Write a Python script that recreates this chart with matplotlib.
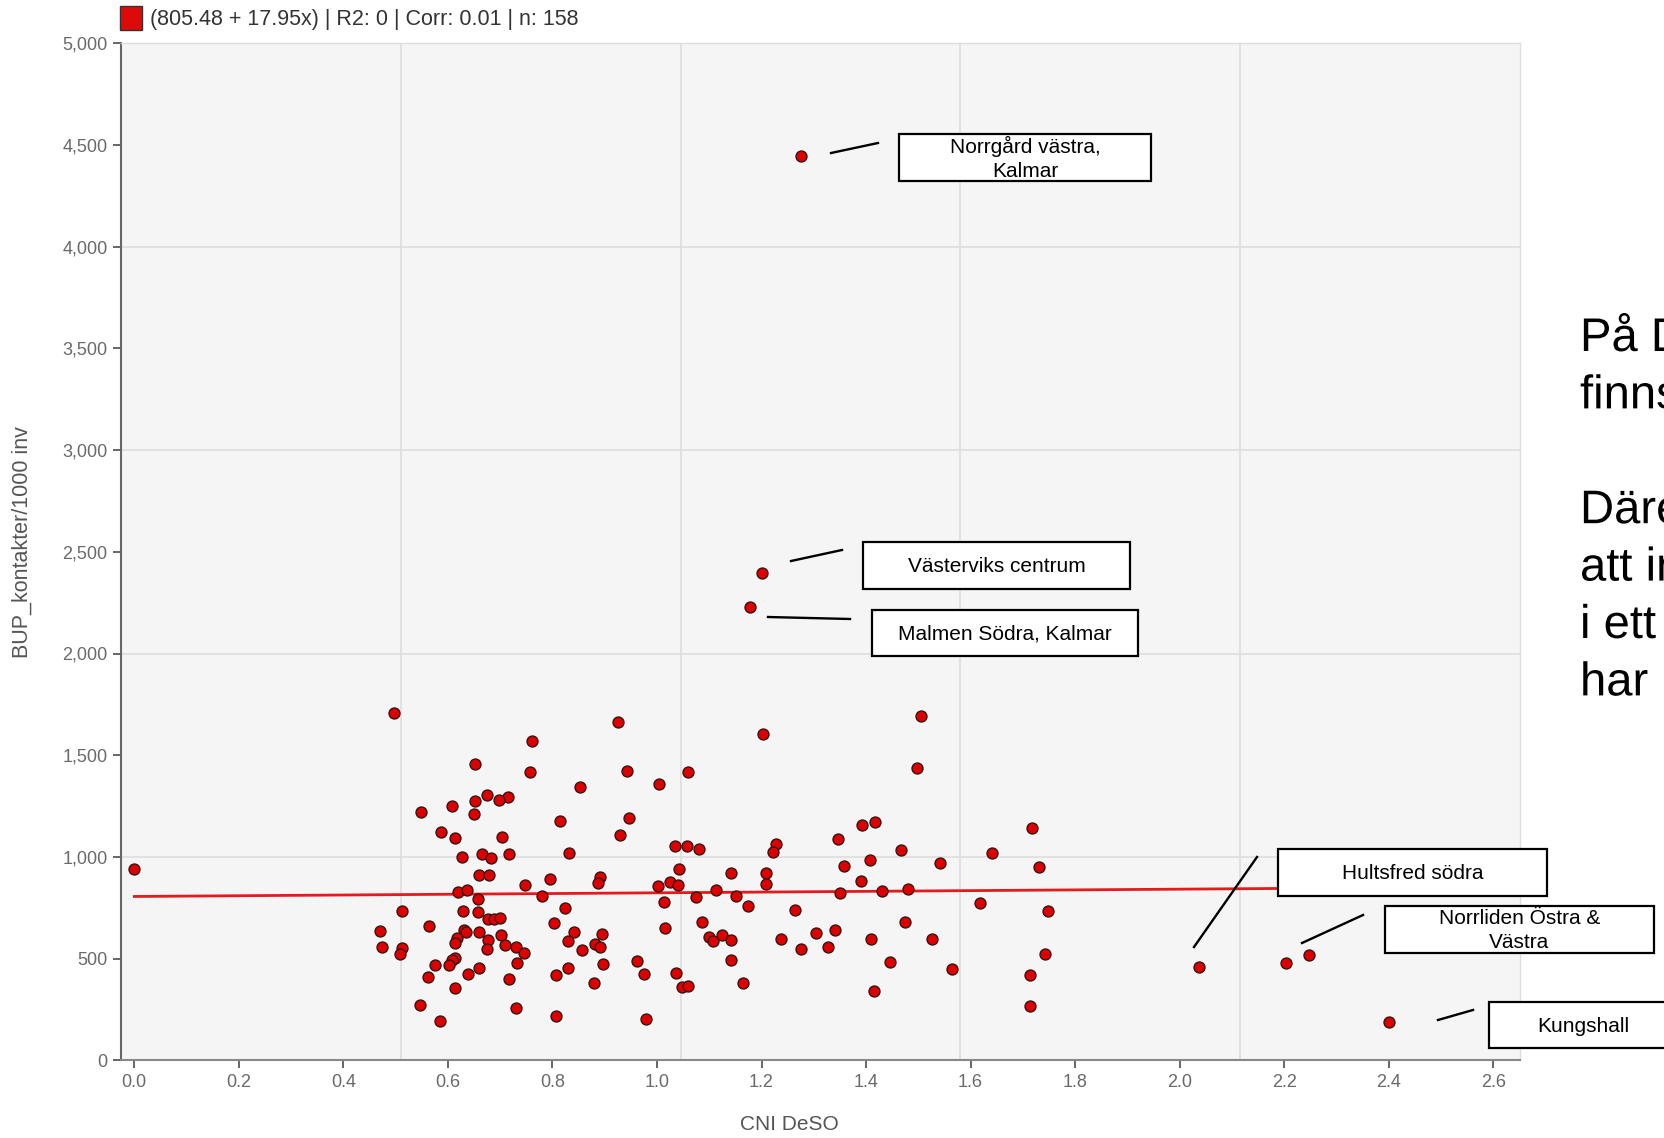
import numpy as np
import matplotlib
matplotlib.use("Agg")
import matplotlib.pyplot as plt
from matplotlib.patches import Rectangle, PathPatch
from matplotlib.lines import Line2D
from matplotlib.textpath import TextPath
from matplotlib.font_manager import FontProperties
from matplotlib.transforms import Affine2D

plt.rcParams['font.family'] = ['Liberation Sans', 'DejaVu Sans']

# values (158 DeSO areas)
cni = [
    0.000, 0.497, 0.760, 0.652, 0.757, 0.674, 0.714, 0.698, 0.608, 0.652,
    0.549, 0.649, 0.587, 0.614, 0.704, 0.626, 0.666, 0.682, 0.716, 0.660,
    0.678, 0.747, 0.796, 0.619, 0.637, 0.657, 0.780, 0.513, 0.628, 0.657,
    0.677, 0.689, 0.700, 0.471, 0.564, 0.631, 0.635, 0.660, 0.618, 0.614,
    0.677, 0.702, 0.710, 0.674, 0.730, 0.745, 0.474, 0.513, 0.508, 0.614,
    0.607, 0.603, 0.575, 0.733, 0.660, 0.561, 0.639, 0.614, 0.716, 0.546,
    0.730, 0.584,
    0.926, 0.943, 0.853, 1.004, 1.060, 1.203, 1.506, 1.497, 0.815, 0.946,
    0.929, 0.832, 1.034, 1.058, 1.081, 1.227, 1.221, 1.346, 1.392, 1.417,
    1.466, 1.407, 1.541, 1.358, 0.891, 0.888, 1.043, 1.001, 1.025, 1.041,
    1.142, 1.209, 1.208, 1.113, 1.151, 1.075, 1.390, 1.351, 1.431, 1.481,
    0.824, 1.013, 1.174, 1.264, 0.803, 1.086, 1.474, 1.016, 0.841, 0.829,
    0.894, 0.882, 0.891, 0.856, 1.100, 1.107, 1.125, 1.142, 1.238, 1.305,
    1.340, 1.328, 1.276, 1.410, 1.527, 1.445, 0.806, 0.829, 0.897, 0.880,
    0.961, 0.975, 1.036, 1.047, 1.060, 1.142, 1.165, 1.416, 0.806, 0.978,
    1.717, 1.640, 1.731, 1.617, 1.748, 1.742, 1.564, 1.713, 1.713, 2.037,
    2.203, 2.247,
    1.276, 1.200, 1.178, 2.401,
]
bup = [
    939, 1707, 1570, 1456, 1416, 1305, 1293, 1280, 1252, 1275,
    1220, 1213, 1124, 1095, 1098, 1000, 1016, 993, 1013, 913,
    910, 864, 892, 826, 837, 792, 810, 736, 736, 729,
    693, 696, 700, 637, 662, 641, 630, 633, 603, 577,
    590, 616, 567, 548, 559, 528, 556, 554, 522, 505,
    494, 467, 469, 477, 455, 410, 423, 356, 399, 272,
    256, 191,
    1665, 1424, 1344, 1357, 1416, 1603, 1695, 1436, 1177, 1193,
    1108, 1018, 1054, 1055, 1041, 1065, 1023, 1090, 1157, 1173,
    1033, 984, 970, 955, 903, 872, 941, 856, 878, 861,
    920, 923, 866, 839, 808, 803, 880, 824, 834, 844,
    748, 777, 757, 741, 674, 680, 679, 651, 630, 588,
    621, 570, 557, 542, 608, 588, 616, 590, 597, 626,
    642, 556, 546, 597, 595, 485, 418, 455, 474, 379,
    490, 423, 428, 360, 364, 492, 379, 339, 219, 205,
    1141, 1021, 951, 775, 734, 523, 451, 418, 267, 457,
    478, 519,
    4447, 2396, 2229, 188,
]

intercept = 805.48
slope = 17.95
legend_text = "(805.48 + 17.95x) | R2: 0 | Corr: 0.01 | n: 158"

x_ticks = [0.0, 0.2, 0.4, 0.6, 0.8, 1.0, 1.2, 1.4, 1.6, 1.8, 2.0, 2.2, 2.4, 2.6]
y_ticks = [0, 500, 1000, 1500, 2000, 2500, 3000, 3500, 4000, 4500, 5000]

labels = ["Norrgård västra,\nKalmar", "Västerviks centrum", "Malmen Södra, Kalmar",
          "Hultsfred södra", "Norrliden Östra &\nVästra", "Kungshall"]
# callout boxes (left, top, right, bottom) and leader lines in pixels
label_boxes = [(899, 134, 1151, 181), (863, 542, 1130, 589), (872, 610, 1138, 656),
               (1278, 849, 1547, 896), (1385, 906, 1654, 953), (1489, 1002, 1677, 1048)]
leaders = [((831, 153), (878, 143)), ((791, 561), (842, 550)), ((768, 617), (850, 619)),
           ((1194, 947), (1257, 857)), ((1302, 943), (1363, 915)), ((1438, 1020), (1473, 1010))]

side_lines = ["På D", "finns", "", "Däre", "att in", "i ett", "har"]

W, H = 1665, 1138


def fx(px):
    return px / W


def fy(py):
    return 1 - py / H


fig = plt.figure(figsize=(W / 100, H / 100), dpi=100)
fig.patch.set_facecolor('white')

ax = fig.add_axes([fx(121), fy(1060.3), (1520 - 121) / W, (1060.3 - 43.3) / H])
ax.set_facecolor('#f5f5f5')
ax.set_xlim((121 - 134.3) / 522.7, (1520 - 134.3) / 522.7)
ax.set_ylim(0, 5000)

# grid (vertical lines sit at fifths of the plot, not at the ticks)
for f in [0.2, 0.4, 0.6, 0.8]:
    ax.plot([f, f], [0, 1], transform=ax.transAxes, color='#dddddd', lw=1.2, zorder=0)
for yv in [1000, 2000, 3000, 4000, 5000]:
    ax.axhline(yv, color='#dddddd', lw=1.2, zorder=0)

xs = np.array([min(cni), max(cni)])
ax.plot(xs, intercept + slope * xs, color='#e41a1c', lw=2, zorder=2)
ax.scatter(cni, bup, s=62, c='#dd0000', edgecolors='#3b1111', linewidths=1.0, zorder=3)

ax.set_xticks(x_ticks)
ax.set_xticklabels([f"{v:.1f}" for v in x_ticks])
ax.set_yticks(y_ticks)
ax.set_yticklabels([f"{v:,}" for v in y_ticks])
ax.tick_params(axis='both', direction='out', colors='#666666', labelsize=13,
               length=5.5, width=1.4, pad=4.3)
for lab in ax.get_xticklabels() + ax.get_yticklabels():
    lab.set_color('#6a6a6a')

ax.spines['left'].set_color('#666666')
ax.spines['left'].set_linewidth(1.5)
ax.spines['bottom'].set_color('#888888')
ax.spines['bottom'].set_linewidth(1.5)
for s in ['top', 'right']:
    ax.spines[s].set_color('#dedede')
    ax.spines[s].set_linewidth(1)

fig.text(fx(22), fy(542), "BUP_kontakter/1000 inv", rotation=90, ha='center', va='center',
         fontsize=15.5, color='#555555')
fig.text(fx(789), fy(1125), "CNI DeSO", ha='center', va='center', fontsize=15, color='#555555')

# legend line at the top
fig.add_artist(Rectangle((fx(120), fy(30)), 22 / W, 24 / H, transform=fig.transFigure,
                         facecolor='#dd0a0a', edgecolor='#333333', lw=1))
fig.text(fx(150), fy(19), legend_text, ha='left', va='center', fontsize=15.5, color='#333333')

# callouts
for text, (l, t, r, b), (p0, p1) in zip(labels, label_boxes, leaders):
    fig.add_artist(Line2D([fx(p0[0]), fx(p1[0])], [fy(p0[1]), fy(p1[1])],
                          transform=fig.transFigure, color='black', lw=1.7))
    fig.add_artist(Rectangle((fx(l), fy(b)), (r - l) / W, (b - t) / H, transform=fig.transFigure,
                             facecolor='white', edgecolor='black', lw=1.6, zorder=4))
    fig.text(fx((l + r) / 2), fy((t + b) / 2 + 1), text, ha='center', va='center',
             fontsize=15, color='black', linespacing=1.38, zorder=5)

# slide text cut off at the right edge, drawn as glyph paths so the cut is clean
fp = FontProperties(family='Liberation Sans')
for i, line in enumerate(side_lines):
    if not line:
        continue
    tp = TextPath((0, 0), line, size=47.2, prop=fp)
    tr = Affine2D().translate(1580, H - (351 + i * 57.4))
    fig.add_artist(PathPatch(tp, transform=tr, facecolor='black', lw=0, zorder=5))

fig.savefig('out.png', dpi=100)
